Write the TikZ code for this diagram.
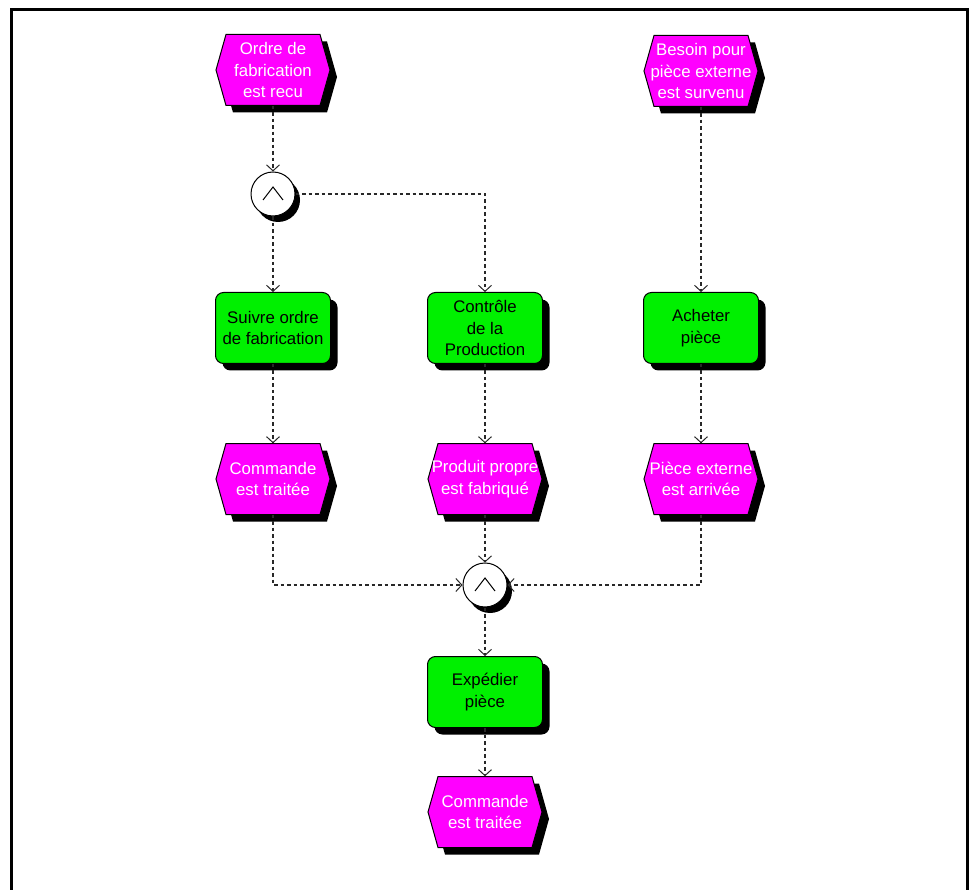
\documentclass[tikz,border=0pt]{standalone}
\usepackage{fontspec}
\setmainfont{Liberation Sans}
\usetikzlibrary{arrows.meta,shadows,calc}
\definecolor{evmag}{RGB}{255,0,255}
\definecolor{fngreen}{RGB}{0,240,0}
\definecolor{conn}{RGB}{40,40,40}
\tikzset{
  evtext/.style={text=white,align=center,inner sep=0pt,minimum width=114pt,minimum height=71pt,font=\fontsize{16.8}{21.5}\selectfont},
  fnbox/.style={draw=black,line width=1pt,fill=fngreen,rounded corners=8pt,align=center,inner sep=0pt,
    minimum width=115pt,minimum height=71pt,font=\fontsize{16.8}{21.5}\selectfont,
    drop shadow={shadow xshift=7pt,shadow yshift=-7pt,opacity=1,fill=black}},
  andgate/.style={circle,draw=black,line width=1pt,fill=white,minimum size=44pt,inner sep=0pt,
    drop shadow={shadow xshift=5pt,shadow yshift=-6pt,opacity=1,fill=black}},
  wedgesym/.style={draw=black,line width=1pt},
  link/.style={conn,line width=1.4pt,dash pattern=on 3.5pt off 3pt,
    -{Straight Barb[length=6pt,width=13pt,line width=1pt]}}
}
\newcommand\eventhex[4]{%
  \begin{scope}[shift={(#2,#3)}]
    \fill[black] (-47+7,-35.5+7) -- (47+7,-35.5+7) -- (57+7,7) -- (47+7,35.5+7) -- (-47+7,35.5+7) -- (-57+7,7) -- cycle;
    \filldraw[fill=evmag,draw=black,line width=1pt] (-47,-35.5) -- (47,-35.5) -- (57,0) -- (47,35.5) -- (-47,35.5) -- (-57,0) -- cycle;
  \end{scope}
  \node[evtext] (#1) at (#2,#3) {#4};
}
\newcommand\andwedge[1]{%
  \draw[wedgesym] ($(#1.center)+(-10,6)$) -- ($(#1.center)+(0,-7)$) -- ($(#1.center)+(10,6)$);
}
\begin{document}
\begin{tikzpicture}[x=1pt,y=-1pt]
\useasboundingbox[fill=white] (0,0) rectangle (972,890);
\draw[line width=3pt] (11,890) -- (11,10) -- (967,10) -- (967,890);

\eventhex{ordre}{273}{70}{Ordre de\\fabrication\\est recu}
\eventhex{besoin}{701}{71}{Besoin pour\\pièce externe\\est survenu}

\node[andgate] (and1) at (273,194) {};
\andwedge{and1}

\node[fnbox] (suivre) at (273,328) {Suivre ordre\\de fabrication};
\node[fnbox] (controle) at (485,328) {Contrôle\\de la\\Production};
\node[fnbox] (acheter) at (701,328) {Acheter\\pièce};

\eventhex{commande}{273}{479}{Commande\\est traitée}
\eventhex{produit}{485}{479}{Produit propre\\est fabriqué}
\eventhex{piece}{701}{479}{Pièce externe\\est arrivée}

\node[andgate] (and2) at (485,585) {};
\andwedge{and2}

\node[fnbox] (expedier) at (485,692) {Expédier\\pièce};
\eventhex{fin}{485}{812}{Commande\\est traitée}

\draw[link] (ordre.south) -- (and1.north);
\draw[link] (and1.south) -- (suivre.north);
\draw[link] (and1.east) -| (controle.north);
\draw[link] (besoin.south) -- (acheter.north);
\draw[link] (suivre.south) -- (commande.north);
\draw[link] (controle.south) -- (produit.north);
\draw[link] (acheter.south) -- (piece.north);
\draw[link] (commande.south) |- (and2.west);
\draw[link] (produit.south) -- (and2.north);
\draw[link] (piece.south) |- (and2.east);
\draw[link] (and2.south) -- (expedier.north);
\draw[link] (expedier.south) -- (fin.north);
\end{tikzpicture}
\end{document}
